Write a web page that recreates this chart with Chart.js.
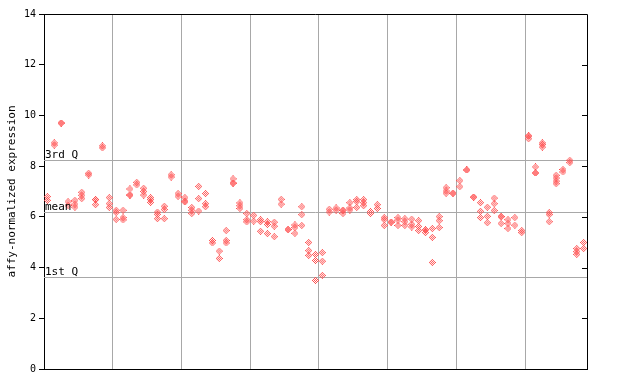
<!DOCTYPE html>
<html>
<head>
<meta charset="utf-8">
<script src="https://cdn.jsdelivr.net/npm/chart.js@4/dist/chart.umd.min.js"></script>
<style>
html,body{margin:0;padding:0;background:#fff;}
#wrap{width:640px;height:384px;position:relative;}
</style>
</head>
<body>
<div id="wrap"><canvas id="c" width="640" height="384"></canvas></div>
<script>
// Expression values per sample (replicates)
const sampleValues = [
  [6.8, 6.65], [8.92, 8.83], [9.7, 9.7], [6.6, 6.45], [6.65, 6.5, 6.38],
  [6.97, 6.85, 6.72], [7.72, 7.65], [6.68, 6.68, 6.48], [8.8, 8.72], [6.76, 6.52, 6.37],
  [6.26, 6.17, 5.9], [6.26, 5.97, 5.88], [7.1, 6.86, 6.86], [7.36, 7.26], [7.13, 7.0, 6.86],
  [6.76, 6.68, 6.57], [6.19, 6.1, 5.93], [6.42, 6.29, 5.93], [7.66, 7.57], [6.92, 6.81],
  [6.76, 6.62, 6.59], [6.37, 6.26, 6.13], [7.2, 6.72, 6.23], [6.92, 6.52, 6.4], [5.07, 4.97],
  [4.65, 4.36], [5.46, 5.07, 4.97], [7.5, 7.33, 7.33], [6.55, 6.44, 6.33], [6.13, 5.89, 5.8],
  [6.06, 5.83], [5.89, 5.81, 5.43], [5.81, 5.7, 5.34], [5.79, 5.63, 5.22], [6.69, 6.5],
  [5.5, 5.5], [5.68, 5.58, 5.35], [6.4, 6.09, 5.66], [4.99, 4.67, 4.48], [4.52, 4.28, 3.49],
  [4.59, 4.25, 3.69], [6.3, 6.19], [6.35, 6.26], [6.26, 6.26, 6.13], [6.56, 6.35, 6.27],
  [6.68, 6.6, 6.37], [6.68, 6.56, 6.44], [6.21, 6.13], [6.48, 6.33], [5.97, 5.89, 5.66],
  [5.79, 5.79], [5.97, 5.87, 5.66], [5.93, 5.81, 5.66], [5.91, 5.71, 5.6], [5.85, 5.62, 5.46],
  [5.49, 5.49, 5.38], [5.54, 5.19, 4.2], [6.01, 5.85, 5.58], [7.15, 7.02, 6.93], [6.93, 6.93],
  [7.43, 7.19], [7.85, 7.85], [6.78, 6.78], [6.56, 6.22, 5.97], [6.38, 6.02, 5.77],
  [6.74, 6.52, 6.25], [6.01, 6.01, 5.74], [5.89, 5.74, 5.54], [5.97, 5.67], [5.46, 5.38],
  [9.19, 9.19, 9.08], [7.97, 7.73, 7.73], [8.92, 8.85, 8.75], [6.17, 6.09, 5.81], [7.64, 7.53, 7.41, 7.31],
  [7.87, 7.77], [8.23, 8.14], [4.75, 4.63, 4.52], [4.99, 4.75]
];
const refLabels = ["3rd Q", "mean", "1st Q"];
const refValues = [8.23, 6.21, 3.61];
const yTicks = [0, 2, 4, 6, 8, 10, 12, 14];
const yTitle = "affy-normalized expression";

const points = [];
sampleValues.forEach((vals, i) => vals.forEach(v => points.push({x: i + 0.5, y: v})));

// hatched diamond marker
function makeMarker(color) {
  const c = document.createElement('canvas');
  c.width = 7; c.height = 7;
  const g = c.getContext('2d');
  g.fillStyle = color;
  for (let dx = -3; dx <= 3; dx++) {
    for (let dy = -3; dy <= 3; dy++) {
      const d = Math.abs(dx) + Math.abs(dy);
      if (d <= 3 && d % 2 === 1) g.fillRect(dx + 3, dy + 3, 1, 1);
    }
  }
  return c;
}
const marker = makeMarker('rgb(255,80,80)');

const font = "'DejaVu Sans Mono', monospace";

const framePlugin = {
  id: 'frame',
  beforeDatasetsDraw(chart) {
    const {ctx, chartArea: a, scales: {y}} = chart;
    ctx.save();
    ctx.strokeStyle = '#a8a8a8';
    ctx.lineWidth = 1;
    refValues.forEach(v => {
      const py = Math.round(y.getPixelForValue(v)) + 0.5;
      ctx.beginPath(); ctx.moveTo(a.left, py); ctx.lineTo(a.right, py); ctx.stroke();
    });
    ctx.restore();
  },
  afterDatasetsDraw(chart) {
    const {ctx, chartArea: a, scales: {y}} = chart;
    ctx.save();
    ctx.fillStyle = '#000';
    ctx.font = "11px " + font;
    ctx.textAlign = 'left';
    ctx.textBaseline = 'bottom';
    refValues.forEach((v, k) => {
      const py = Math.round(y.getPixelForValue(v));
      ctx.fillText(refLabels[k], a.left + 1, py + 1);
    });
    ctx.strokeStyle = '#000';
    ctx.lineWidth = 1;
    ctx.beginPath();
    ctx.moveTo(a.left, Math.round(a.top) + 0.5);
    ctx.lineTo(Math.round(a.right) + 0.5, Math.round(a.top) + 0.5);
    ctx.lineTo(Math.round(a.right) + 0.5, a.bottom);
    ctx.stroke();
    yTicks.forEach(t => {
      const py = Math.round(y.getPixelForValue(t)) + 0.5;
      ctx.beginPath(); ctx.moveTo(a.right - 5, py); ctx.lineTo(a.right, py); ctx.stroke();
    });
    ctx.translate(12, (a.top + a.bottom) / 2);
    ctx.rotate(-Math.PI / 2);
    ctx.textAlign = 'center';
    ctx.textBaseline = 'middle';
    ctx.font = "11px " + font;
    ctx.fillText(yTitle, 0, 0);
    ctx.restore();
  }
};

new Chart(document.getElementById('c'), {
  type: 'scatter',
  data: {
    datasets: [{
      data: points,
      pointStyle: marker,
      pointRadius: 3.5,
      pointHoverRadius: 3.5
    }]
  },
  options: {
    responsive: false,
    animation: false,
    events: [],
    layout: {padding: {top: 14, right: 53, bottom: 15, left: 0}},
    plugins: {legend: {display: false}, tooltip: {enabled: false}},
    scales: {
      x: {
        type: 'linear', min: 0, max: sampleValues.length,
        afterFit(s) { s.height = 0; },
        ticks: {display: false, stepSize: 10},
        grid: {
          drawTicks: false,
          color: (c) => (c.tick && c.tick.value > 0 && c.tick.value < sampleValues.length && c.tick.value % 10 === 0) ? '#a8a8a8' : 'rgba(0,0,0,0)'
        },
        border: {color: '#000', width: 1}
      },
      y: {
        min: 0, max: 14,
        afterFit(s) { s.width = 44; },
        afterBuildTicks(s) { s.ticks = yTicks.map(v => ({value: v})); },
        ticks: {color: '#000', font: {family: font, size: 10}, padding: 3},
        grid: {drawOnChartArea: false, drawTicks: true, tickLength: 5, color: '#000'},
        border: {color: '#000', width: 1}
      }
    }
  },
  plugins: [framePlugin]
});
</script>
</body>
</html>
